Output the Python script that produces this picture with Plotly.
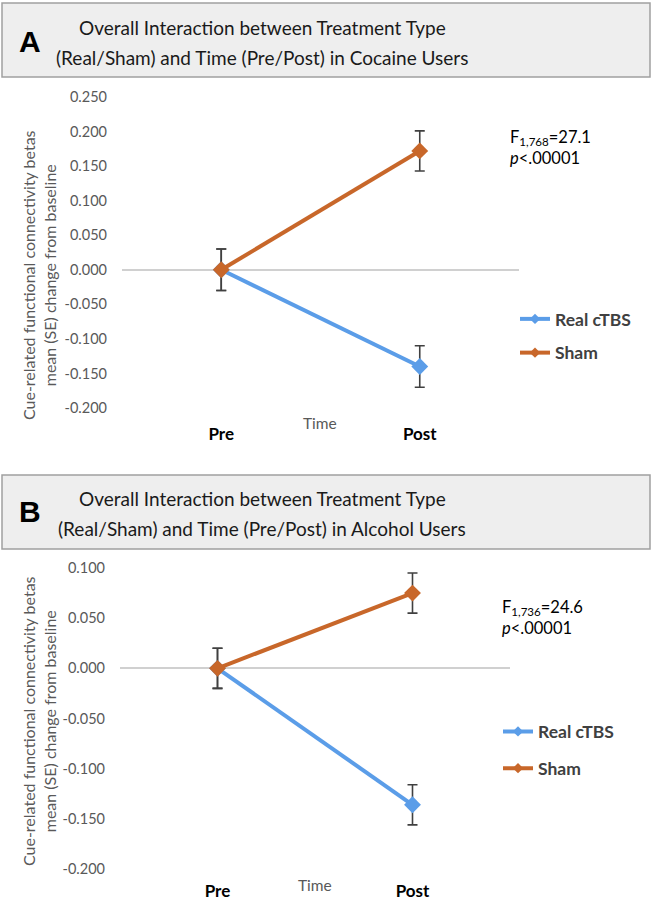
import plotly.graph_objects as go

W, H = 652, 900

time_points = ["Pre", "Post"]

# Panel A: Cocaine users
cocaine_real = [0.000, -0.140]
cocaine_real_se = [0.030, 0.030]
cocaine_sham = [0.000, 0.172]
cocaine_sham_se = [0.030, 0.029]

# Panel B: Alcohol users
alcohol_real = [0.000, -0.136]
alcohol_real_se = [0.020, 0.020]
alcohol_sham = [0.000, 0.075]
alcohol_sham_se = [0.020, 0.020]

series_names = ["Real cTBS", "Sham"]
yticks_a = [0.25, 0.20, 0.15, 0.10, 0.05, 0.0, -0.05, -0.10, -0.15, -0.20]
yticklabels_a = ["0.250", "0.200", "0.150", "0.100", "0.050", "0.000",
                 "-0.050", "-0.100", "-0.150", "-0.200"]
yticks_b = [0.10, 0.05, 0.0, -0.05, -0.10, -0.15, -0.20]
yticklabels_b = ["0.100", "0.050", "0.000", "-0.050", "-0.100", "-0.150", "-0.200"]

BLUE = "#5B9DE8"
ORANGE = "#C8672A"
ERR = "#404040"
FONT = "Lato"
GRAY_TXT = "#595959"


def px(x):
    return x / W


def py(y):
    return 1 - y / H


fig = go.Figure()


def add_series(xa, ya, vals, se, color):
    fig.add_trace(go.Scatter(
        x=time_points, y=vals, mode="lines+markers", showlegend=False,
        xaxis=xa, yaxis=ya,
        line=dict(color=color, width=4),
        marker=dict(symbol="diamond", size=13, color=color),
        error_y=dict(type="data", array=se, visible=True, color=ERR,
                     thickness=1.6, width=5),
    ))


def add_legend_entry(name, color, legend, xa, ya):
    fig.add_trace(go.Scatter(
        x=[None], y=[None], mode="lines+markers", name=name, legend=legend,
        legendgroup=legend + name, xaxis=xa, yaxis=ya,
        line=dict(color=color, width=4),
        marker=dict(symbol="diamond", size=8, color=color),
    ))


add_series("x", "y", cocaine_real, cocaine_real_se, BLUE)
add_series("x", "y", cocaine_sham, cocaine_sham_se, ORANGE)
add_series("x2", "y2", alcohol_real, alcohol_real_se, BLUE)
add_series("x2", "y2", alcohol_sham, alcohol_sham_se, ORANGE)
add_legend_entry(series_names[0], BLUE, "legend", "x", "y")
add_legend_entry(series_names[1], ORANGE, "legend", "x", "y")
add_legend_entry(series_names[0], BLUE, "legend2", "x2", "y2")
add_legend_entry(series_names[1], ORANGE, "legend2", "x2", "y2")

xcommon = dict(type="category", range=[-0.5, 1.5], showline=False, showgrid=False,
               zeroline=False, ticks="", automargin=False,
               tickfont=dict(family=FONT, size=17, color="black", weight="bold"),
               fixedrange=True)
ycommon = dict(showline=False, showgrid=False, zeroline=True, zerolinecolor="#D0D0D0",
               zerolinewidth=1.5, ticks="", automargin=False,
               tickfont=dict(family=FONT, size=14.5, color=GRAY_TXT),
               ticklabelstandoff=14, fixedrange=True)

legend_common = dict(font=dict(family=FONT, size=17.5, color="#404040", weight="bold"),
                     bgcolor="rgba(0,0,0,0)", xanchor="left", yanchor="middle",
                     traceorder="grouped", itemwidth=30)

fig.update_layout(
    width=W, height=H,
    margin=dict(l=0, r=0, t=0, b=0, autoexpand=False),
    paper_bgcolor="white", plot_bgcolor="white",
    xaxis=dict(xcommon, domain=[px(122), px(519)], anchor="y",
               ticklabelstandoff=14),
    yaxis=dict(ycommon, domain=[py(408), py(97)], range=[-0.2, 0.25],
               tickvals=yticks_a, ticktext=yticklabels_a, anchor="x"),
    xaxis2=dict(xcommon, domain=[px(120), px(510)], anchor="y2",
                ticklabelstandoff=10),
    yaxis2=dict(ycommon, domain=[py(869), py(568)], range=[-0.2, 0.1],
                tickvals=yticks_b, ticktext=yticklabels_b, anchor="x2"),
    legend=dict(legend_common, x=px(515), y=py(336), tracegroupgap=8),
    legend2=dict(legend_common, x=px(498), y=py(750), tracegroupgap=11),
    showlegend=True,
)

# Title boxes
for (y0, y1) in [(3, 77), (475, 549)]:
    fig.add_shape(type="rect", xref="paper", yref="paper",
                  x0=px(2), x1=px(650), y0=py(y1), y1=py(y0),
                  fillcolor="#EEEEEE", line=dict(color="#A0A0A0", width=1.5),
                  layer="below")

titles = [
    ("A", 41, 27, 58,
     "Overall Interaction between Treatment Type",
     "(Real/Sham) and Time (Pre/Post) in Cocaine Users"),
    ("B", 511, 498, 528,
     "Overall Interaction between Treatment Type",
     "(Real/Sham) and Time (Pre/Post) in Alcohol Users"),
]
for letter, yl, y1, y2, t1, t2 in titles:
    fig.add_annotation(text=letter, xref="paper", yref="paper", x=px(30), y=py(yl),
                       showarrow=False, xanchor="center", yanchor="middle",
                       font=dict(family="Liberation Sans", size=30, color="black", weight="bold"))
    for t, yc in [(t1, y1), (t2, y2)]:
        fig.add_annotation(text=t, xref="paper", yref="paper", x=px(262), y=py(yc),
                           showarrow=False, xanchor="center", yanchor="middle",
                           font=dict(family=FONT, size=19, color="#1a1a1a"))

ytitle = "Cue-related functional connectivity betas<br>mean (SE) change from baseline"
for yc in [275, 721]:
    fig.add_annotation(text=ytitle, xref="paper", yref="paper", x=px(39), y=py(yc),
                       showarrow=False, textangle=-90, xanchor="center", yanchor="middle",
                       font=dict(family=FONT, size=16, color=GRAY_TXT))

for xc, yc in [(320, 423), (315, 885)]:
    fig.add_annotation(text="Time", xref="paper", yref="paper", x=px(xc), y=py(yc),
                       showarrow=False, xanchor="center", yanchor="middle",
                       font=dict(family=FONT, size=15.5, color=GRAY_TXT))

stats = [(508, 147, "F<sub>1,768</sub>=27.1<br><i>p</i><.00001"),
         (500, 617, "F<sub>1,736</sub>=24.6<br><i>p</i><.00001")]
for xl, yc, text in stats:
    fig.add_annotation(text=text, xref="paper", yref="paper", x=px(xl), y=py(yc),
                       showarrow=False, xanchor="left", yanchor="middle", align="left",
                       font=dict(family=FONT, size=16.5, color="black"))

fig.write_html("out.html", config={"displayModeBar": False},
               post_script="document.body.style.margin='0';document.body.style.padding='0';")
